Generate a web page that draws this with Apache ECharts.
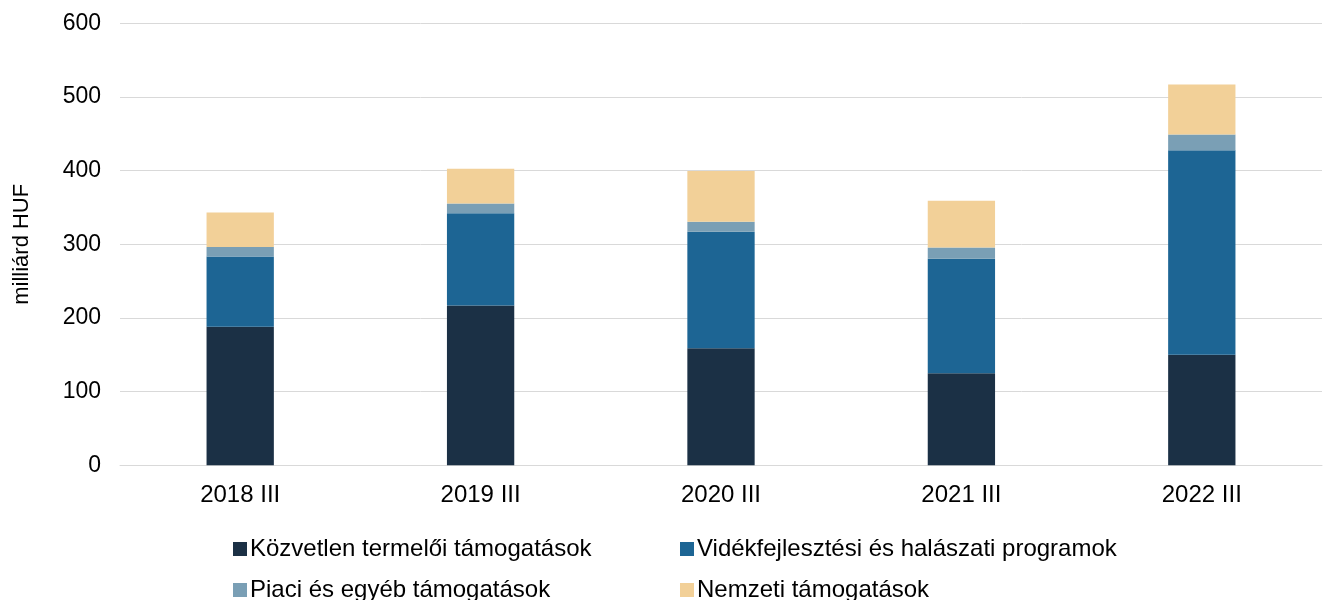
<!DOCTYPE html>
<html lang="hu">
<head>
    <meta charset="UTF-8">
    <title>Agrártámogatások</title>
    <script src="https://cdn.jsdelivr.net/npm/echarts@6/dist/echarts.min.js"></script>
    <style>
        html, body { margin: 0; padding: 0; background: #fff; }
        #chart { width: 1323px; height: 600px; }
    </style>
</head>
<body>
<div id="chart"></div>
<script>
    var categories = ['2018 III', '2019 III', '2020 III', '2021 III', '2022 III'];
    var kozvetlen = [188, 217, 159, 125, 150];
    var videkfejlesztesi = [95.5, 125, 158, 155.5, 277.5];
    var piaci = [13, 13.5, 13.5, 15, 21.5];
    var nemzeti = [46.5, 47, 69, 63.5, 68];
    var yTicks = [0, 100, 200, 300, 400, 500, 600];

    var names = ['Közvetlen termelői támogatások', 'Vidékfejlesztési és halászati programok',
        'Piaci és egyéb támogatások', 'Nemzeti támogatások'];
    var colors = ['#1b3045', '#1d6594', '#7a9fb5', '#f2d098'];
    var values = [kozvetlen, videkfejlesztesi, piaci, nemzeti];
    var font = 'Liberation Sans, Arial, sans-serif';

    var legendPos = [[228, 532], [675, 532], [228, 573], [675, 573]];
    var legends = names.map(function (n, i) {
        return {
            data: [n],
            left: legendPos[i][0],
            top: legendPos[i][1],
            itemWidth: 14,
            itemHeight: 14,
            itemGap: 4,
            icon: 'rect',
            selectedMode: false,
            textStyle: { fontFamily: font, fontSize: 24, color: '#000', padding: [0, 0, 0, -2] }
        };
    });

    var series = names.map(function (n, i) {
        return {
            name: n,
            type: 'bar',
            stack: 'total',
            barWidth: '28%',
            itemStyle: { color: colors[i] },
            data: values[i]
        };
    });

    var chart = echarts.init(document.getElementById('chart'));
    chart.setOption({
        animation: false,
        grid: { left: 120, right: 1, top: 23.3, bottom: 134.7 },
        legend: legends,
        xAxis: {
            type: 'category',
            data: categories,
            axisTick: { show: false },
            axisLine: { lineStyle: { color: '#d9d9d9', width: 1 } },
            axisLabel: { fontFamily: font, fontSize: 24, color: '#000', margin: 18 }
        },
        yAxis: {
            type: 'value',
            min: yTicks[0],
            max: yTicks[yTicks.length - 1],
            interval: 100,
            name: 'milliárd HUF',
            nameLocation: 'middle',
            nameGap: 87,
            nameTextStyle: { fontFamily: font, fontSize: 22, color: '#000' },
            axisLine: { show: false },
            axisTick: { show: false },
            axisLabel: { fontFamily: font, fontSize: 23, color: '#000', margin: 19 },
            splitLine: { lineStyle: { color: '#d9d9d9', width: 1 } }
        },
        series: series
    });
</script>
</body>
</html>
